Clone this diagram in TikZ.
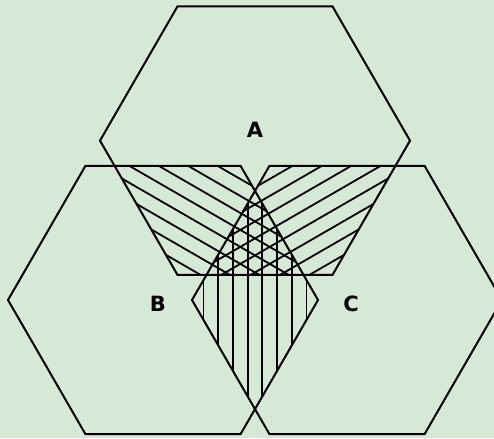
\documentclass[tikz,border=0pt]{standalone}
\usepackage{fontspec}
\setmainfont{DejaVu Sans}
\usepackage{tikz}
\usetikzlibrary{calc}

\definecolor{bgpaper}{RGB}{214,232,214}

\tikzset{
  hexline/.style={line width=2pt, line join=miter},
  hatchline/.style={line width=1.8pt},
  setlabel/.style={font=\fontsize{21}{21}\selectfont\bfseries}
}
% flat-topped regular hexagon round a centre
\newcommand{\hexpath}[1]{(#1)+(0:155) -- +(60:155) -- +(120:155) -- +(180:155) -- +(240:155) -- +(300:155) -- cycle}

\begin{document}
\begin{tikzpicture}[x=1pt, y=1pt]
  \fill[bgpaper] (0,0) rectangle (494,438);
  \useasboundingbox (0,0) rectangle (494,438);

  \coordinate (A) at (255,297.35);
  \coordinate (B) at (163,138);
  \coordinate (C) at (347,138);
  \coordinate (O) at (255,191.1);

  % B and C: vertical hatching
  \begin{scope}
    \clip \hexpath{B};
    \clip \hexpath{C};
    \begin{scope}[shift={(O)}]
      \foreach \k in {-12,...,11}
        \draw[hatchline] ({14.7*(\k+0.5)},-300) -- ({14.7*(\k+0.5)},300);
    \end{scope}
  \end{scope}
  % A and C
  \begin{scope}
    \clip \hexpath{A};
    \clip \hexpath{C};
    \begin{scope}[shift={(O)}, rotate=120]
      \foreach \k in {-12,...,11}
        \draw[hatchline] ({14.7*(\k+0.5)},-300) -- ({14.7*(\k+0.5)},300);
    \end{scope}
  \end{scope}
  % A and B
  \begin{scope}
    \clip \hexpath{A};
    \clip \hexpath{B};
    \begin{scope}[shift={(O)}, rotate=-120]
      \foreach \k in {-12,...,11}
        \draw[hatchline] ({14.7*(\k+0.5)},-300) -- ({14.7*(\k+0.5)},300);
    \end{scope}
  \end{scope}

  \draw[hexline] \hexpath{A};
  \draw[hexline] \hexpath{B};
  \draw[hexline] \hexpath{C};

  \node[setlabel] (labA) at (255,308) {A};
  \node[setlabel] (labB) at (158,134) {B};
  \node[setlabel] (labC) at (351,134) {C};
\end{tikzpicture}
\end{document}
